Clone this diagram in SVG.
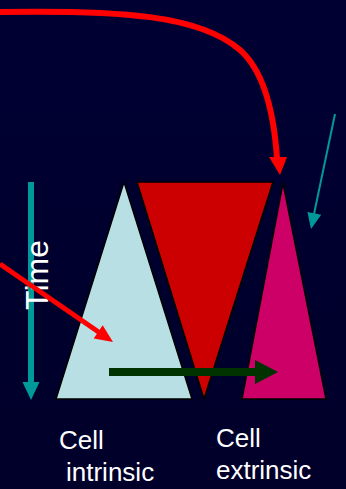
<svg xmlns="http://www.w3.org/2000/svg" width="346" height="489" viewBox="0 0 346 489">
<defs>
<linearGradient id="bg" x1="0" y1="0" x2="0" y2="1">
<stop offset="0" stop-color="#000033"/>
<stop offset="1" stop-color="#00002a"/>
</linearGradient>
</defs>
<style>
.tri{stroke:#000000;stroke-width:1.5;stroke-linejoin:miter}
.lbl{font-family:"Liberation Sans",Arial,sans-serif;fill:#ffffff}
.red{stroke:#ff0000;fill:none}
</style>
<rect x="0" y="0" width="346" height="489" fill="url(#bg)"/>
<g id="intrinsic-triangle">
<polygon class="tri" points="124,182 56,399 192,399" fill="#b8dfe3"/>
</g>
<g id="middle-triangle">
<polygon class="tri" points="137,182 273,182 204,399" fill="#cc0000"/>
</g>
<g id="extrinsic-triangle">
<polygon class="tri" points="283,183 242,399 326,399" fill="#cc0066"/>
</g>
<g id="time">
<line x1="31" y1="182" x2="31" y2="384" stroke="#009999" stroke-width="6"/>
<polygon points="22.5,382 39.5,382 31,400" fill="#009999"/>
<text class="lbl" font-size="32" text-anchor="middle" transform="translate(48,275) rotate(-90)">Time</text>
</g>
<g id="connectors">
<path class="red" stroke-width="6" d="M0,12 C120,10 200,15 240,50 C264,71 274,115 277,158"/>
<polygon points="269,157 287,157 280,175" fill="#ff0000"/>
<line class="red" stroke-width="5" x1="0" y1="264" x2="100" y2="333"/>
<polygon points="113,342 93.7,338.4 102.7,325.2" fill="#ff0000"/>
<line x1="335" y1="114" x2="314" y2="214" stroke="#009999" stroke-width="2"/>
<polygon points="311,229 307.4,211.9 321.2,214.7" fill="#009999"/>
<rect x="109" y="368" width="147" height="8" fill="#003300"/>
<polygon points="255,360 255,384 278,372" fill="#003300"/>
</g>
<g id="label-intrinsic">
<text class="lbl" font-size="26" x="59" y="449">Cell</text>
<text class="lbl" font-size="26" x="66" y="481">intrinsic</text>
</g>
<g id="label-extrinsic">
<text class="lbl" font-size="26" x="216" y="447">Cell</text>
<text class="lbl" font-size="26" x="216" y="479">extrinsic</text>
</g>
</svg>
